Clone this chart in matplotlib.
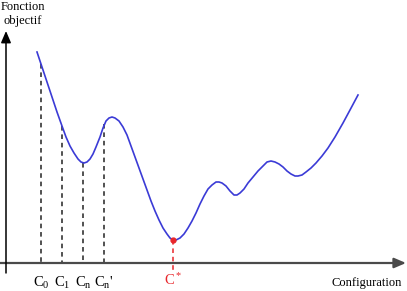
import matplotlib
matplotlib.use("Agg")
import matplotlib.pyplot as plt
import numpy as np

plt.rcParams['font.family'] = ['Liberation Serif', 'DejaVu Serif']
plt.rcParams['mathtext.fontset'] = 'custom'
plt.rcParams['mathtext.rm'] = 'Liberation Serif'
plt.rcParams['mathtext.it'] = 'Liberation Serif:italic'

# curve (pixel coordinates, y grows downward)
curve_x = [37, 42, 47, 52, 57, 62, 66, 70, 74, 78, 81, 84, 87, 90, 93, 96, 100,
           103, 106, 109, 112, 115, 119, 123, 127, 131, 135, 139, 143, 147, 151,
           155, 159, 163, 167, 170, 173, 176, 180, 184, 188, 192, 196, 200, 204,
           208, 212, 216, 219, 222, 226, 230, 234, 237, 240, 244, 248, 253, 258,
           263, 267, 271, 275, 279, 283, 287, 291, 295, 298, 302, 306, 311, 316,
           322, 328, 335, 343, 350, 358]
curve_y = [52, 67, 82, 97, 112, 126, 137, 146, 153, 159, 162, 163, 162, 159, 154, 147, 137,
           128, 121, 118, 117, 118, 121, 127, 135, 146, 157, 168, 179, 190, 201,
           211, 220, 228, 234, 238, 240, 240, 238, 234, 228, 221, 213, 204, 196,
           189, 185, 182, 182, 183, 186, 191, 195, 195, 193, 189, 183, 177, 171,
           166, 162, 161, 162, 164, 167, 171, 174, 176, 176, 175, 172, 168, 163,
           156, 148, 137, 123, 110, 95]

# configurations marked on the axis
conf_x = [41, 62, 83, 104]
conf_top = [64, 126, 163, 124]
conf_labels = [r'C$_\mathrm{0}$', r'C$_\mathrm{1}$', r'C$_\mathrm{n}$', r"C$_\mathrm{n}$'"]
star_x, star_y = 173, 240

axis_y = 263
red = '#e8262b'

fig = plt.figure(figsize=(4.07, 2.91), dpi=100)
ax = fig.add_axes([0, 0, 1, 1])
ax.set_xlim(0, 407)
ax.set_ylim(291, 0)
ax.axis('off')

# axes with arrows
ax.annotate('', xy=(406, axis_y), xytext=(0, axis_y),
            arrowprops=dict(arrowstyle='-|>,head_length=0.7,head_width=0.3',
                            color='#4a4a4a', lw=1.6, shrinkA=0, shrinkB=0))
ax.annotate('', xy=(6, 31), xytext=(6, 273),
            arrowprops=dict(arrowstyle='-|>,head_length=0.7,head_width=0.3',
                            color='black', lw=1.1, shrinkA=0, shrinkB=0))

# dashed verticals
for x, top in zip(conf_x, conf_top):
    ax.plot([x, x], [top, axis_y], color='#222222', lw=1.1,
            linestyle=(0, (3, 2.5)))
ax.plot([star_x, star_x], [star_y, 272], color=red, lw=1.1,
        linestyle=(0, (3, 2.5)))

ax.plot(curve_x, curve_y, color='#3b3bd6', lw=1.2, solid_joinstyle='round')
ax.plot([star_x], [star_y], 'o', color=red, ms=3.5)

for x, lab in zip(conf_x, conf_labels):
    ax.text(x, 283, lab, ha='center', va='center', fontsize=10.5)
ax.text(star_x, 280, r'C$^*$', ha='center', va='center', fontsize=10.5, color=red)

ax.text(367, 283, 'Configuration', ha='center', va='center', fontsize=9)
ax.text(23, 14, 'Fonction\nobjectif', ha='center', va='center', fontsize=9,
        linespacing=1.3)

fig.savefig('out.png', dpi=100)
